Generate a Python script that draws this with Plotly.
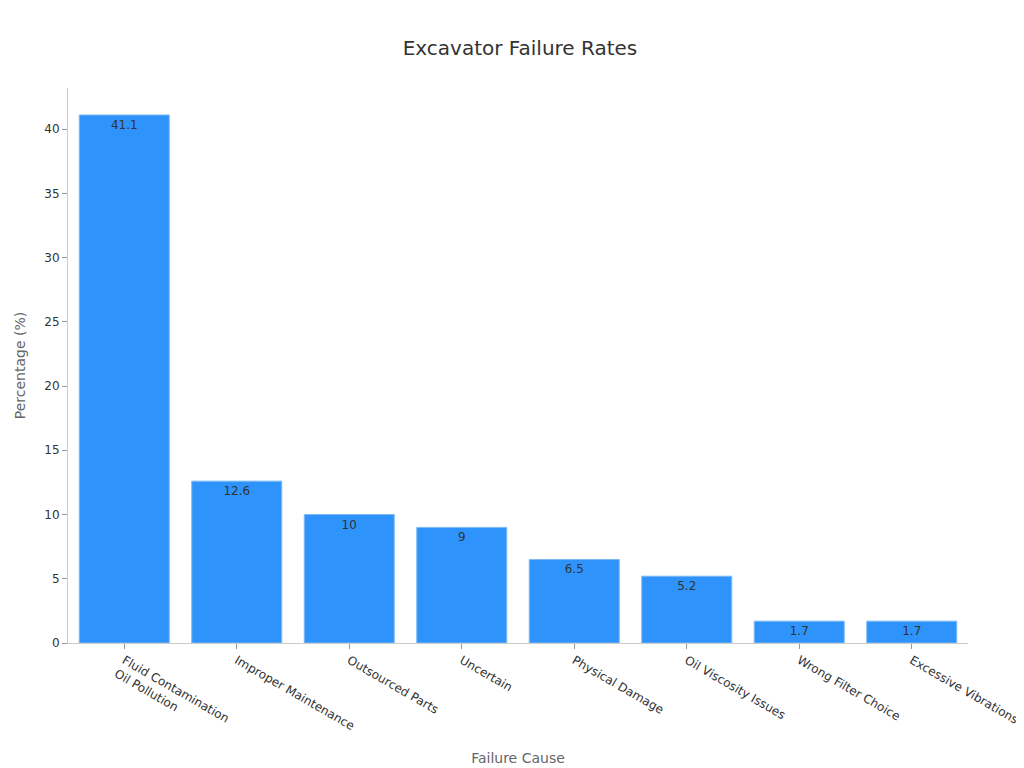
import plotly.graph_objects as go

categories = ["Fluid Contamination<br>Oil Pollution", "Improper Maintenance", "Outsourced Parts",
              "Uncertain", "Physical Damage", "Oil Viscosity Issues", "Wrong Filter Choice",
              "Excessive Vibrations"]
values = [41.1, 12.6, 10, 9, 6.5, 5.2, 1.7, 1.7]

fig = go.Figure(go.Bar(
    x=categories, y=values, text=[str(v) for v in values],
    textposition="inside", insidetextanchor="end",
    textfont=dict(color="#333333", size=12),
    marker=dict(color="#2E93FA", line=dict(color="#7FB8F5", width=1)),
))
fig.update_layout(
    width=1024, height=768,
    font=dict(family="DejaVu Sans", color="#333333"),
    title=dict(text="Excavator Failure Rates", x=0.5, y=0.957, xanchor="center",
               font=dict(size=20, color="#333333")),
    plot_bgcolor="white", paper_bgcolor="white",
    margin=dict(l=60, r=64, t=80, b=133),
    bargap=0.2, showlegend=False,
    xaxis=dict(title=dict(text="Failure Cause", font=dict(size=14, color="#666666")),
               tickangle=30, showline=True, linecolor="#CCCCCC", ticks="outside",
               tickcolor="#999999", ticklen=5, tickfont=dict(size=12)),
    yaxis=dict(title=dict(text="Percentage (%)", font=dict(size=14, color="#666666")),
               range=[0, 43.2], dtick=5, showgrid=False, zeroline=False,
               showline=True, linecolor="#CCCCCC", ticks="outside",
               tickcolor="#999999", ticklen=5, tickfont=dict(size=12)),
)
fig.write_html("out.html")
